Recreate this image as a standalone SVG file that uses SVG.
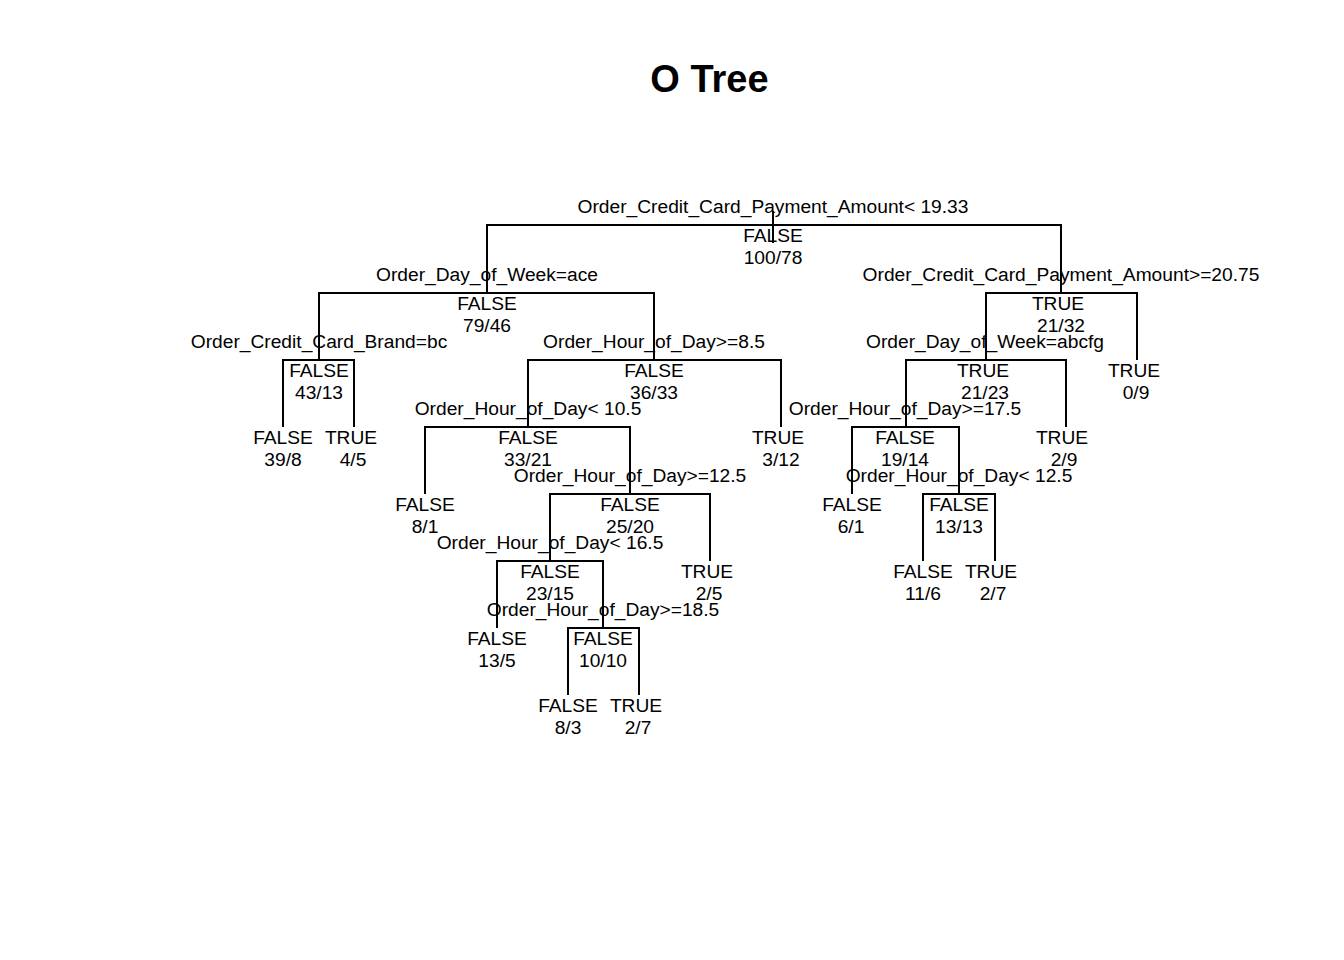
<svg xmlns="http://www.w3.org/2000/svg" width="1344" height="960" viewBox="0 0 1344 960">
<style>
text{font-family:"Liberation Sans",Arial,sans-serif;font-size:19.2px;fill:#000;text-anchor:middle}
.title{font-weight:bold;font-size:38px}
#connectors path{fill:none;stroke:#000;stroke-width:2}
</style>
<rect width="1344" height="960" fill="#fff"/>
<text class="title" x="709.5" y="92">O Tree</text>
<g id="connectors">
<path d="M773 211V243"/>
<path d="M487 293V225H1061V293"/>
<path d="M319 360V293H654V360"/>
<path d="M283 427V360H354V427"/>
<path d="M528 427V360H781V427"/>
<path d="M425 494V427H630V494"/>
<path d="M550 561V494H710V561"/>
<path d="M497 628V561H603V628"/>
<path d="M568 695V628H639V695"/>
<path d="M986 360V293H1137V360"/>
<path d="M906 427V360H1066V427"/>
<path d="M852 494V427H959V494"/>
<path d="M923 561V494H995V561"/>
</g>
<g id="n1"><text x="773" y="213">Order_Credit_Card_Payment_Amount&lt; 19.33</text><text x="773" y="242">FALSE</text><text x="773" y="264">100/78</text></g>
<g id="n2"><text x="487" y="281">Order_Day_of_Week=ace</text><text x="487" y="310">FALSE</text><text x="487" y="332">79/46</text></g>
<g id="n4"><text x="319" y="348">Order_Credit_Card_Brand=bc</text><text x="319" y="377">FALSE</text><text x="319" y="399">43/13</text></g>
<g id="n8"><text x="283" y="444">FALSE</text><text x="283" y="466">39/8</text></g>
<g id="n9"><text x="351" y="444">TRUE</text><text x="353" y="466">4/5</text></g>
<g id="n5"><text x="654" y="348">Order_Hour_of_Day&gt;=8.5</text><text x="654" y="377">FALSE</text><text x="654" y="399">36/33</text></g>
<g id="n10"><text x="528" y="415">Order_Hour_of_Day&lt; 10.5</text><text x="528" y="444">FALSE</text><text x="528" y="466">33/21</text></g>
<g id="n11"><text x="778" y="444">TRUE</text><text x="781" y="466">3/12</text></g>
<g id="n20"><text x="425" y="511">FALSE</text><text x="425" y="533">8/1</text></g>
<g id="n21"><text x="630" y="482">Order_Hour_of_Day&gt;=12.5</text><text x="630" y="511">FALSE</text><text x="630" y="533">25/20</text></g>
<g id="n42"><text x="550" y="549">Order_Hour_of_Day&lt; 16.5</text><text x="550" y="578">FALSE</text><text x="550" y="600">23/15</text></g>
<g id="n43"><text x="707" y="578">TRUE</text><text x="709" y="600">2/5</text></g>
<g id="n84"><text x="497" y="645">FALSE</text><text x="497" y="667">13/5</text></g>
<g id="n85"><text x="603" y="616">Order_Hour_of_Day&gt;=18.5</text><text x="603" y="645">FALSE</text><text x="603" y="667">10/10</text></g>
<g id="n170"><text x="568" y="712">FALSE</text><text x="568" y="734">8/3</text></g>
<g id="n171"><text x="636" y="712">TRUE</text><text x="638" y="734">2/7</text></g>
<g id="n3"><text x="1061" y="281">Order_Credit_Card_Payment_Amount&gt;=20.75</text><text x="1058" y="310">TRUE</text><text x="1061" y="332">21/32</text></g>
<g id="n6"><text x="985" y="348">Order_Day_of_Week=abcfg</text><text x="983" y="377">TRUE</text><text x="985" y="399">21/23</text></g>
<g id="n7"><text x="1134" y="377">TRUE</text><text x="1136" y="399">0/9</text></g>
<g id="n12"><text x="905" y="415">Order_Hour_of_Day&gt;=17.5</text><text x="905" y="444">FALSE</text><text x="905" y="466">19/14</text></g>
<g id="n13"><text x="1062" y="444">TRUE</text><text x="1064" y="466">2/9</text></g>
<g id="n24"><text x="852" y="511">FALSE</text><text x="851" y="533">6/1</text></g>
<g id="n25"><text x="959" y="482">Order_Hour_of_Day&lt; 12.5</text><text x="959" y="511">FALSE</text><text x="959" y="533">13/13</text></g>
<g id="n50"><text x="923" y="578">FALSE</text><text x="923" y="600">11/6</text></g>
<g id="n51"><text x="991" y="578">TRUE</text><text x="993" y="600">2/7</text></g>
</svg>
